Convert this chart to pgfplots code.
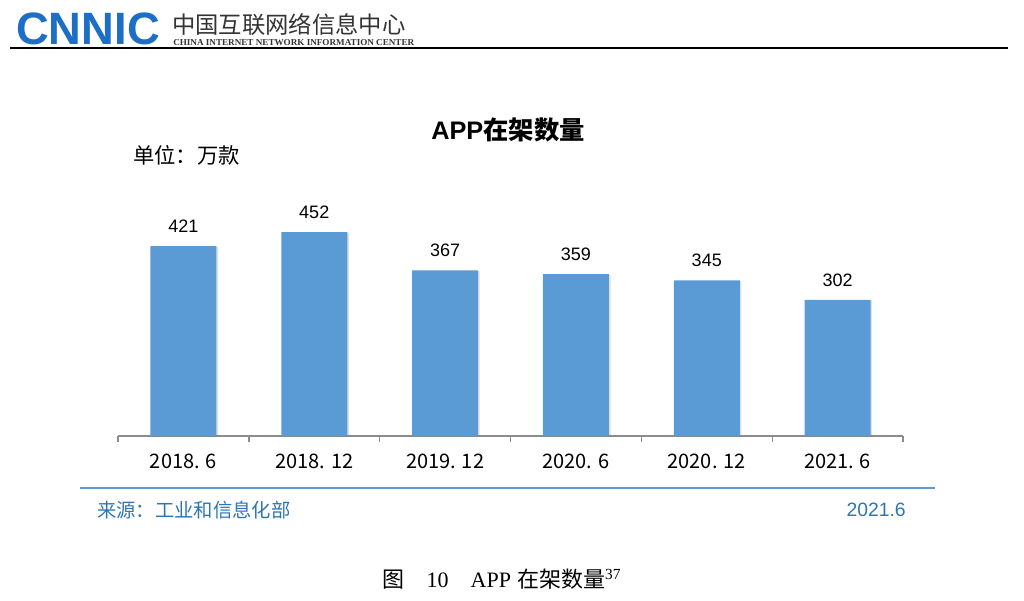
\documentclass[border=0pt]{standalone}
\usepackage{graphicx}
\usepackage{pgfplots}
\pgfplotsset{compat=1.18}
\usepackage{fontspec}
\setmainfont{Liberation Sans}
\newfontfamily\cjk{Noto Sans CJK SC}
\newfontfamily\serif{Liberation Serif}
\usetikzlibrary{shadows}
\definecolor{barblue}{HTML}{5B9BD5}
\definecolor{logoblue}{HTML}{1C6FC4}
\definecolor{srcblue}{HTML}{2E75B6}
\definecolor{axgray}{HTML}{8C8C8C}
\begin{document}
\begin{tikzpicture}[x=0.75pt,y=-0.75pt]
\path[use as bounding box] (0,0) rectangle (1024,600);
% header
\node[anchor=west, inner sep=0, text=logoblue, font=\fontsize{34}{34}\selectfont\bfseries] at (16,29) {CNNIC};
\node[anchor=west, inner sep=0, text=black!80, font=\cjk\fontsize{17.5}{17.5}\selectfont] at (172,25) {中国互联网络信息中心};
\node[anchor=west, inner sep=0, text=black!80] at (173,43) {\resizebox{180.75pt}{4.5pt}{\serif\bfseries CHINA INTERNET NETWORK INFORMATION CENTER}};
\draw[line width=1.5pt] (10,47.5) -- (1008,47.5);
% titles
\node[font=\fontsize{19}{19}\selectfont\bfseries] at (508,130) {APP{\cjk 在架数量}};
\node[anchor=west, inner sep=0, font=\cjk\fontsize{16}{16}\selectfont] at (133,155) {单位：万款};
\begin{axis}[
  at={(88.5pt,-327pt)}, anchor=south west,
  scale only axis, width=588.75pt, height=180pt,
  xmin=-0.5, xmax=5.5, ymin=0, ymax=532,
  axis x line*=bottom, axis y line=none,
  axis line style={axgray, line width=1.1pt, -},
  xtick={0,...,5},
  xticklabels={2018. 6, 2018. 12, 2019. 12, 2020. 6, 2020. 12, 2021. 6},
  major x tick style={draw=none},
  extra x ticks={-0.5,0.5,1.5,2.5,3.5,4.5,5.5},
  extra x tick labels={},
  extra x tick style={tick align=outside, major tick length=4.5pt, major x tick style={draw=axgray, line width=1pt}},
  x tick label style={font=\cjk\fontsize{15}{15}\selectfont, text=black, yshift=-6pt},
  /pgf/number format/assume math mode=true,
  ybar, bar width=49.5pt,
  nodes near coords,
  nodes near coords style={font=\fontsize{13.5}{13.5}\selectfont, anchor=south, yshift=6.6pt, text=black},
  clip=false,
]
\addplot[fill=barblue, draw=none, drop shadow={shadow xshift=1.2pt, shadow yshift=-0.6pt, opacity=0.25}] coordinates {(0,421) (1,452) (2,367) (3,359) (4,345) (5,302)};
\end{axis}
% footer
\draw[barblue, line width=1.5pt] (80,488) -- (935,488);
\node[anchor=west, inner sep=0, font=\cjk\fontsize{14.5}{14.5}\selectfont, text=srcblue] at (97,510) {来源：工业和信息化部};
\node[anchor=east, inner sep=0, font=\fontsize{14.5}{14.5}\selectfont, text=srcblue] at (906,510) {2021.6};
\node[font=\fontsize{16.5}{16.5}\selectfont] at (502,579) {{\cjk 图}\quad{\serif 10}\quad{\serif APP} {\cjk 在架数量}\textsuperscript{\serif 37}};
\end{tikzpicture}
\end{document}
